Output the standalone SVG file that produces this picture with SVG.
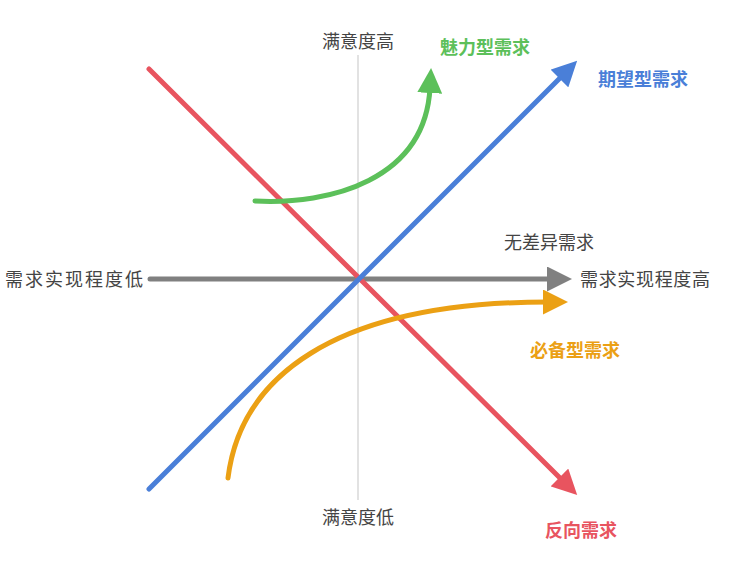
<svg xmlns="http://www.w3.org/2000/svg" width="749" height="576" viewBox="0 0 749 576">
<style>
text{font-family:"Noto Sans CJK SC","Noto Sans",sans-serif;font-size:18px}
.c{fill:none;stroke-width:5;stroke-linecap:round}
</style>
<defs>
<marker id="mr" viewBox="0 0 10 10" refX="2" refY="5" markerWidth="5" markerHeight="5" orient="auto"><path d="M0,0L10,5L0,10z" fill="#e8545f"/></marker>
<marker id="mb" viewBox="0 0 10 10" refX="2" refY="5" markerWidth="5" markerHeight="5" orient="auto"><path d="M0,0L10,5L0,10z" fill="#4a7fd8"/></marker>
<marker id="mg" viewBox="0 0 10 10" refX="2" refY="5" markerWidth="5" markerHeight="5" orient="auto"><path d="M0,0L10,5L0,10z" fill="#5cc05a"/></marker>
<marker id="mo" viewBox="0 0 10 10" refX="2" refY="5" markerWidth="5" markerHeight="5" orient="auto"><path d="M0,0L10,5L0,10z" fill="#eba014"/></marker>
<marker id="mk" viewBox="0 0 10 10" refX="2" refY="5" markerWidth="5" markerHeight="5" orient="auto"><path d="M0,0L10,5L0,10z" fill="#808080"/></marker>
</defs>
<rect width="749" height="576" fill="#fff"/>
<g id="connectors">
<line x1="358" y1="55" x2="358" y2="500" stroke="#d8d8d8" stroke-width="1.5"/>
<line class="c" x1="150" y1="279" x2="552" y2="279" stroke="#808080" marker-end="url(#mk)"/>
<line class="c" x1="149" y1="69" x2="563" y2="481" stroke="#e8545f" marker-end="url(#mr)"/>
<line class="c" x1="149" y1="489" x2="563" y2="75" stroke="#4a7fd8" marker-end="url(#mb)"/>
<path class="c" d="M255,201 C330,205 425,180 430,88" stroke="#5cc05a" marker-end="url(#mg)"/>
<path class="c" d="M228,478 C240,380 330,302 548,302" stroke="#eba014" marker-end="url(#mo)"/>
</g>
<g id="labels">
<text x="358" y="48" text-anchor="middle" fill="#444">满意度高</text>
<text x="358" y="524" text-anchor="middle" fill="#444">满意度低</text>
<text x="5" y="286" fill="#444" textLength="138">需求实现程度低</text>
<text x="580" y="286" fill="#444" textLength="130">需求实现程度高</text>
<text x="504" y="249" fill="#444">无差异需求</text>
<text x="440" y="54" fill="#5cc05a" font-weight="bold">魅力型需求</text>
<text x="598" y="86" fill="#4a7fd8" font-weight="bold">期望型需求</text>
<text x="530" y="357" fill="#eba014" font-weight="bold">必备型需求</text>
<text x="545" y="537" fill="#e8545f" font-weight="bold">反向需求</text>
</g>
</svg>
